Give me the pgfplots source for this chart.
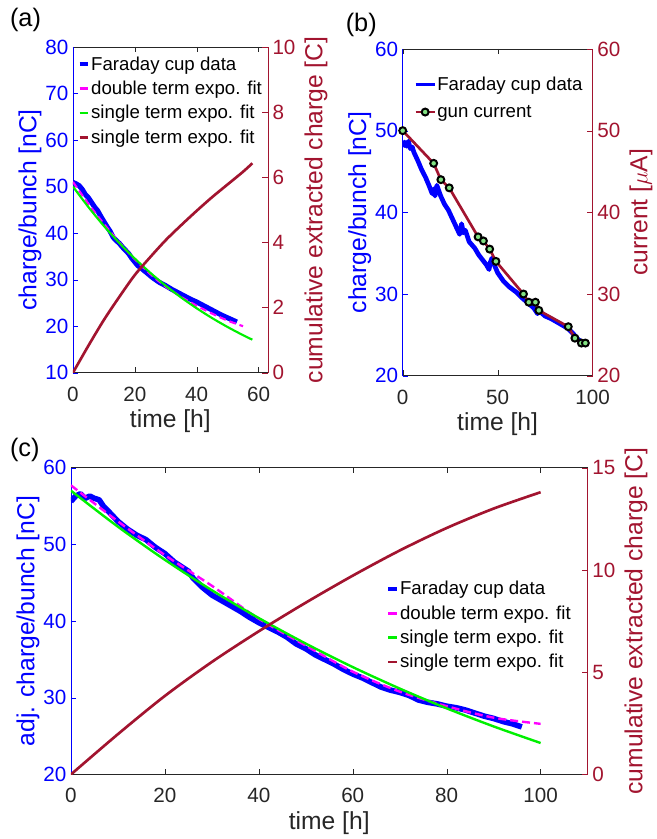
\documentclass[border=0pt]{standalone}
\usepackage{fontspec}
\setmainfont{Liberation Sans}
\usepackage{pgfplots}
\pgfplotsset{compat=1.18}

\definecolor{mblue}{RGB}{0,0,255}
\definecolor{mred}{RGB}{162,20,47}
\definecolor{mmag}{RGB}{255,0,255}
\definecolor{mgreen}{RGB}{0,240,0}
\definecolor{mgray}{RGB}{38,38,38}
\definecolor{mkfill}{RGB}{130,225,130}

\pgfplotsset{
  mybase/.style={
    scale only axis, anchor=north west,
    tick align=inside, major tick length=4pt,
    /pgf/number format/assume math mode=true,
    ticklabel style={font=\fontsize{15.5}{17}\selectfont},
    label style={font=\fontsize{18.5}{20}\selectfont},
    legend style={font=\fontsize{14}{16}\selectfont, draw=none, fill=none,
      row sep=4.6pt, inner sep=0pt, nodes={inner sep=1pt}},
    legend cell align=left,
    axis line style={-},
  },
  leftax/.style={mybase,
    axis x line*=box, axis y line*=left,
    x axis line style={mgray}, y axis line style={mblue},
    xtick style={mgray}, ytick style={mblue},
    xticklabel style={mgray, anchor=center, yshift=-16pt},
    yticklabel style={mblue},
    xlabel style={mgray, at={(axis description cs:0.5,0)}, anchor=center, yshift=-36.5pt},
    ylabel style={mblue}, ylabel shift=-4pt,
    xtick pos=both,
  },
  rightax/.style={mybase,
    axis x line=none, axis y line*=right,
    y axis line style={mred}, ytick style={mred},
    yticklabel style={mred}, ylabel style={mred},
  },
  shortleg/.style={legend image code/.code={\draw[##1] (0cm,0cm) -- (0.22cm,0cm);}},
  markleg/.style={legend image code/.code={\draw[##1] (0cm,0cm) -- (0.5cm,0cm);
     \draw[##1] plot coordinates {(0.25cm,0cm)};}},
}

\begin{document}
\begin{tikzpicture}
\path (0,0) rectangle (486pt,-629.25pt);

% ---------------- (a)
\node[anchor=west, font=\fontsize{19}{21}\selectfont] at (4pt,-15pt) {(a)};
\begin{axis}[leftax, at={(54.75pt,-35.25pt)}, width=146.25pt, height=244.5pt,
  xmin=0, xmax=63, ymin=10, ymax=80,
  xtick={0,20,40,60}, ytick={10,20,...,80},
  xlabel={time [h]}, ylabel={charge/bunch [nC]}]
\addplot[mblue, line width=3.8pt, line join=round] coordinates {
(0,50.9) (1,50.6) (2,50.2) (3,49.4) (4,48.3) (5,47.6) (6,46.6) (7,45.6)
(8,44.8) (9,43.6) (10,42.5) (11,41.4) (12,40.4) (13,39.1) (14,38.4) (15,37.8)
(16,37.0) (17,36.3) (18,35.6) (19,34.6) (20,33.8) (21,33.0) (22,32.5) (24,31.4)
(26,30.3) (28,29.4) (30,28.7) (32,27.9) (34,27.2) (36,26.5) (38,25.8) (40,25.2)
(42,24.5) (44,23.8) (46,23.1) (48,22.4) (50,21.8) (52,21.2) (53,20.9)};
\addplot[mmag, line width=1.6pt, dash pattern=on 5pt off 3pt, smooth] coordinates {
(0,51.0) (5,46.3) (10,42.0) (15,38.0) (20,34.4) (25,31.2) (30,28.5) (35,26.3)
(40,24.4) (45,22.7) (50,21.2) (55,20.0)};
\addplot[mgreen, line width=1.6pt, smooth] coordinates {
(0,50.0) (5,45.6) (10,41.55) (15,37.88) (20,34.53) (25,31.48) (30,28.69)
(35,26.16) (40,23.85) (45,21.74) (50,19.82) (55,18.07) (58,17.1)};
\end{axis}
\begin{axis}[rightax, at={(54.75pt,-35.25pt)}, width=146.25pt, height=244.5pt,
  xmin=0, xmax=63, ymin=0, ymax=10, ytick={0,2,...,10},
  ylabel={cumulative extracted charge [C]},
  shortleg,
  legend style={at={(0.022,0.975)}, anchor=north west}]
\addlegendimage{mblue, line width=3pt}
\addlegendentry{Faraday cup data}
\addlegendimage{mmag, line width=2pt}
\addlegendentry{double term expo. fit}
\addlegendimage{mgreen, line width=2pt}
\addlegendentry{single term expo. fit}
\addplot[mred, line width=2pt, smooth] coordinates {
(0,0) (5,0.83) (10,1.62) (15,2.33) (20,3.0) (25,3.55) (30,4.07) (35,4.53)
(40,4.97) (45,5.39) (50,5.78) (55,6.17) (58,6.43)};
\addlegendentry{single term expo. fit}
\end{axis}

% ---------------- (b)
\node[anchor=west, font=\fontsize{19}{21}\selectfont] at (256pt,-18.75pt) {(b)};
\begin{axis}[leftax, at={(302.25pt,-36.75pt)}, width=142.5pt, height=245.25pt,
  xmin=0, xmax=100, ymin=20, ymax=60,
  xtick={0,50,100}, ytick={20,30,...,60},
  xlabel={time [h]}, ylabel={charge/bunch [nC]}]
\addplot[mblue, line width=3.5pt, line join=round] coordinates {
(0,48.0) (1,48.6) (2,48.1) (3,48.7) (4,47.8) (5,48.0) (6,47.3) (8,46.3)
(10,45.2) (12,44.3) (14,43.2) (15.5,42.3) (16.5,42.9) (17,42.0) (18,43.3)
(20,42.0) (22,41.0) (24,40.3) (26,39.3) (28,38.3) (30,37.3) (31,38.6) (32,37.5)
(33,37.8) (35,36.4) (38,35.6) (40,34.8) (42,34.2) (44,33.6) (45.5,33.0) (46,33.8)
(47,34.4) (48,33.7) (50,32.6) (53,31.6) (56,30.9) (60,30.2) (63,29.5) (66,28.9)
(69,28.3) (71,27.6) (72,27.9) (75,27.3) (78,27.0) (81,26.6) (84,26.2) (87,25.8)
(90,25.1) (92,24.5) (94,24.2) (96,24.1)};
\end{axis}
\begin{axis}[rightax, at={(302.25pt,-36.75pt)}, width=142.5pt, height=245.25pt,
  xmin=0, xmax=100, ymin=20, ymax=60, ytick={20,30,...,60},
  ylabel={current [$\mu$A]},
  markleg,
  legend style={at={(0.06,0.92)}, anchor=north west, row sep=7.6pt}]
\addlegendimage{mblue, line width=2pt}
\addlegendentry{Faraday cup data}
\addplot[mred, line width=2pt, mark=*, mark size=2.6pt,
  mark options={draw=black, fill=mkfill, line width=1.5pt}] coordinates {
(0,50.0) (16.3,46.0) (20.1,44.0) (24.5,43.0) (39.7,37.0) (42.5,36.5)
(45.8,35.5) (49.1,34.0) (63.6,30.0) (66.4,29.0) (69.9,29.0) (71.7,28.0)
(87.2,26.0) (90.7,24.6) (94.1,24.0) (96.2,24.0)};
\addlegendentry{gun current}
\end{axis}

% ---------------- (c)
\node[anchor=west, font=\fontsize{19}{21}\selectfont] at (4pt,-337.5pt) {(c)};
\begin{axis}[leftax, at={(53.25pt,-351pt)}, width=387.75pt, height=230.25pt,
  xmin=0, xmax=110, ymin=20, ymax=60,
  xtick={0,20,...,100}, ytick={20,30,...,60},
  xlabel={time [h]}, ylabel={adj. charge/bunch [nC]}]
\addplot[mblue, line width=4.2pt, line join=round] coordinates {
(0,55.6) (1,56.3) (2,56.6) (3,56.0) (4,56.3) (5,56.0) (6,55.8) (7,54.9)
(8,54.3) (10,53.0) (12,52.0) (14,51.2) (16,50.6) (18,49.6) (20,48.8) (22,47.7)
(24,46.9) (25,46.5) (26,45.6) (28,44.4) (30,43.4) (32,42.7) (34,42.0) (36,41.3)
(38,40.5) (40,39.8) (42,39.2) (44,38.6) (46,37.9) (48,37.0) (50,36.4) (52,35.6)
(54,35.0) (56,34.4) (58,33.7) (60,33.1) (62,32.6) (64,32.0) (66,31.4) (68,31.0)
(70,30.7) (72,30.3) (74,29.7) (76,29.4) (78,29.2) (80,28.9) (82,28.7) (84,28.4)
(86,28.0) (88,27.6) (90,27.3) (92,26.9) (94,26.6) (96,26.2)};
\addplot[mmag, line width=1.8pt, dash pattern=on 6pt off 3pt, smooth] coordinates {
(0,57.7) (10,53.0) (20,48.6) (30,44.6) (40,40.3) (50,36.8) (60,33.4) (70,30.8)
(80,28.9) (90,27.4) (100,26.6)};
\addplot[mgreen, line width=1.8pt, smooth] coordinates {
(0,57.0) (10,52.30) (20,47.98) (30,44.02) (40,40.39) (50,37.06) (60,34.00)
(70,31.20) (80,28.62) (90,26.26) (100,24.10)};
\end{axis}
\begin{axis}[rightax, at={(53.25pt,-351pt)}, width=387.75pt, height=230.25pt,
  xmin=0, xmax=110, ymin=0, ymax=15, ytick={0,5,10,15},
  ylabel={cumulative extracted charge [C]},
  shortleg,
  legend style={at={(0.61,0.635)}, anchor=north west}]
\addlegendimage{mblue, line width=3pt}
\addlegendentry{Faraday cup data}
\addlegendimage{mmag, line width=2pt}
\addlegendentry{double term expo. fit}
\addlegendimage{mgreen, line width=2pt}
\addlegendentry{single term expo. fit}
\addplot[mred, line width=2pt, smooth] coordinates {
(0,0) (10,1.97) (20,3.84) (30,5.5) (40,7.0) (50,8.4) (60,9.72) (70,10.95)
(80,12.05) (90,13.0) (100,13.8)};
\addlegendentry{single term expo. fit}
\end{axis}
\end{tikzpicture}
\end{document}
